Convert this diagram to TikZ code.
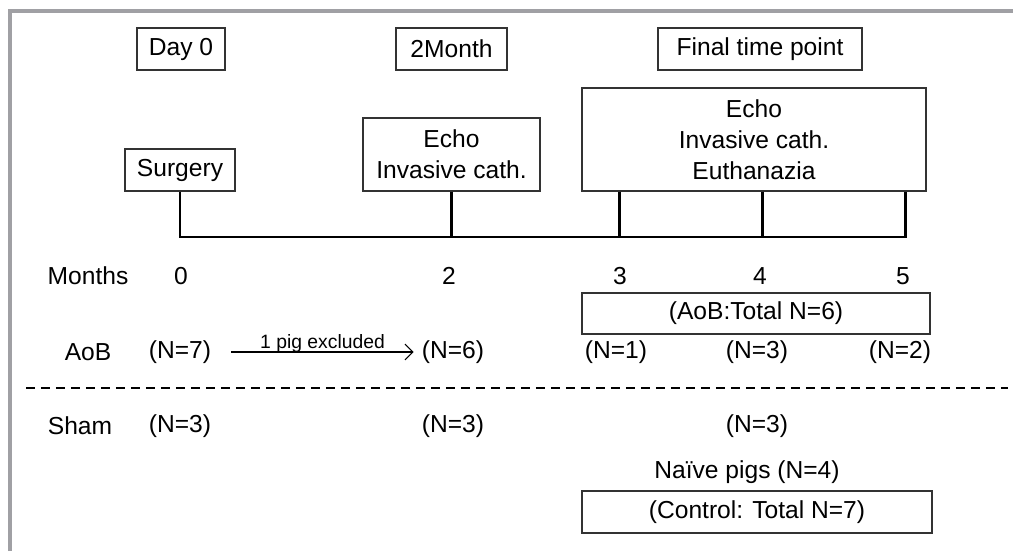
\documentclass[tikz,border=0pt]{standalone}
\usepackage{fontspec}
\setmainfont{Liberation Sans}
\usepackage{xcolor}
\usepackage{tikz}
\usetikzlibrary{positioning, arrows.meta}
\definecolor{framegray}{HTML}{A0A0A4}
\tikzset{
    stage/.style={rectangle, minimum height=0.84cm, text centered, draw=black!80, line width=0.7pt, inner sep=2pt},
    event/.style={rectangle, align=center, draw=black!80, line width=0.7pt, inner sep=2pt},
    tline/.style={line width=1.7pt, line join=miter},
    divider/.style={line width=1.1pt, dash pattern=on 0.18cm off 0.12cm},
    frame/.style={line width=1.8pt, draw=framegray},
    arrow/.style={line width=0.6pt, -{Straight Barb[length=4.5pt, width=9pt]}}
}

\begin{document}
\begin{tikzpicture}[x=0.02cm, y=-0.02cm, every node/.style={font=\fontsize{14pt}{17.6pt}\selectfont}]
    \useasboundingbox (0,0) rectangle (1013,551);
    % Frame
    \draw[frame] (10,551) -- (10,11) -- (1013,11);

    % Time points
    \node (day0) [stage, minimum width=1.76cm] at (181,49) {Day 0};
    \node (month2) [stage, minimum width=2.22cm] at (451.5,49) {2Month};
    \node (final) [stage, minimum width=4.08cm] at (760,49) {Final time point};

    % Procedures
    \node (surgery) [stage, minimum width=2.2cm] at (180,170) {Surgery};
    \node (echoA) [event, minimum width=3.54cm, minimum height=1.46cm] at (451.5,154.5) {Echo\\Invasive cath.};
    \node (echoB) [event, minimum width=6.88cm, minimum height=2.06cm] at (754,139.5) {Echo\\Invasive cath.\\Euthanazia};

    % Timeline
    \coordinate (t0) at (180,237);
    \coordinate (t2) at (451.5,237);
    \coordinate (t3) at (619,237);
    \coordinate (t4) at (762,237);
    \coordinate (t5) at (905,237);
    \draw[tline] (surgery.south) -- (t0) -- (t5) -- (t5 |- echoB.south);
    \draw[tline] (echoA.south) -- (t2);
    \draw[tline] (t3 |- echoB.south) -- (t3);
    \draw[tline] (t4 |- echoB.south) -- (t4);

    % Months
    \node (months) at (88,276) {Months};
    \foreach \m/\x in {0/181, 2/449, 3/620, 4/760, 5/903}
        \node (m\m) at (\x,276) {\m};

    % AoB group
    \node (aobTotal) [stage, minimum width=6.96cm, minimum height=0.82cm] at (756,313.5) {(AoB:Total N=6)};
    \node (aob) at (88,352) {AoB};
    \node (aob0) at (180,352) {(N=7)};
    \node (aob2) at (453,352) {(N=6)};
    \node (aob3) at (616,352) {(N=1)};
    \node (aob4) at (757,352) {(N=3)};
    \node (aob5) at (900,352) {(N=2)};
    \draw[arrow] ([xshift=0.28cm]aob0.east) -- node[anchor=base, yshift=2pt, font=\fontsize{11pt}{13pt}\selectfont] {1 pig excluded} ([xshift=-0.04cm]aob2.west);

    % Divider
    \coordinate (divL) at (26,388);
    \coordinate (divR) at (1008,388);
    \draw[divider] (divL) -- (divR);

    % Sham group
    \node (sham) at (80,426) {Sham};
    \node (sham0) at (180,426) {(N=3)};
    \node (sham2) at (453,426) {(N=3)};
    \node (sham4) at (757,426) {(N=3)};

    % Controls
    \node (control) [stage, minimum width=7cm] at (757,512) {(Control: Total N=7)};
    \node (naive) at (747,472) {Naïve pigs (N=4)};
\end{tikzpicture}
\end{document}
